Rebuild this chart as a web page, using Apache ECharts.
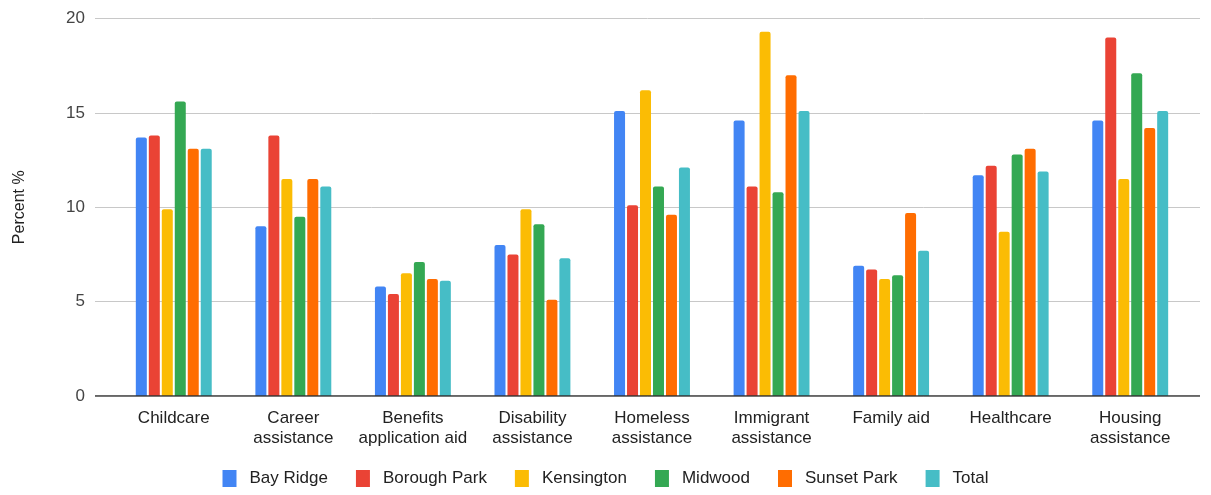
<!DOCTYPE html>
<html>
<head>
<meta charset="utf-8">
<script src="https://cdn.jsdelivr.net/npm/echarts@6/dist/echarts.min.js"></script>
<style>
  html, body { margin: 0; padding: 0; background: #fff; }
  #chart { width: 1211px; height: 495px; }
</style>
</head>
<body>
<div id="chart"></div>
<script>
// 服务类别（x 轴）
const categories = [
  'Childcare', 'Career\nassistance', 'Benefits\napplication aid', 'Disability\nassistance',
  'Homeless\nassistance', 'Immigrant\nassistance', 'Family aid', 'Healthcare', 'Housing\nassistance'
];

// 各社区占比（%）
const bayRidge     = [13.7, 9.0, 5.8, 8.0, 15.1, 14.6, 6.9, 11.7, 14.6];
const boroughPark  = [13.8, 13.8, 5.4, 7.5, 10.1, 11.1, 6.7, 12.2, 19.0];
const kensington   = [9.9, 11.5, 6.5, 9.9, 16.2, 19.3, 6.2, 8.7, 11.5];
const midwood      = [15.6, 9.5, 7.1, 9.1, 11.1, 10.8, 6.4, 12.8, 17.1];
const sunsetPark   = [13.1, 11.5, 6.2, 5.1, 9.6, 17.0, 9.7, 13.1, 14.2];
const total        = [13.1, 11.1, 6.1, 7.3, 12.1, 15.1, 7.7, 11.9, 15.1];

const seriesNames = ['Bay Ridge', 'Borough Park', 'Kensington', 'Midwood', 'Sunset Park', 'Total'];
const seriesData = [bayRidge, boroughPark, kensington, midwood, sunsetPark, total];
const colors = ['#4285F4', '#EA4335', '#FBBC04', '#34A853', '#FF6D01', '#46BDC6'];

const chart = echarts.init(document.getElementById('chart'));
const font = 'Liberation Sans, Arial, sans-serif';

const option = {
  color: colors,
  textStyle: { fontFamily: font },
  legend: {
    bottom: 3,
    left: 'center',
    itemWidth: 14,
    itemHeight: 17,
    itemGap: 28,
    icon: 'rect',
    textStyle: { fontSize: 17, color: '#222', fontFamily: font, padding: [0, 0, 0, 8] },
    data: seriesNames
  },
  grid: [
    // 背景网格（较宽，用于网格线和基线）
    { left: 95, right: 11, top: 18.5, bottom: 99 },
    // 柱状图区域
    { left: 114, right: 21, top: 18.5, bottom: 99 }
  ],
  xAxis: [
    { type: 'value', gridIndex: 0, show: true, min: 0, max: 1,
      axisLine: { show: false }, axisTick: { show: false }, axisLabel: { show: false }, splitLine: { show: false } },
    { type: 'category', gridIndex: 1, data: categories,
      axisLine: { show: false }, axisTick: { show: false },
      axisLabel: { fontSize: 17, color: '#222', lineHeight: 20, margin: 12, interval: 0, fontFamily: font } }
  ],
  yAxis: [
    { type: 'value', gridIndex: 0, min: 0, max: 20, interval: 5,
      name: 'Percent %', nameLocation: 'middle', nameGap: 67, nameRotate: 90,
      nameTextStyle: { fontSize: 16, color: '#222', fontFamily: font },
      axisLine: { show: false }, axisTick: { show: false },
      axisLabel: { fontSize: 17, color: '#444', margin: 10, fontFamily: font },
      splitLine: { lineStyle: { color: '#c8c8c8', width: 1 } } },
    { type: 'value', gridIndex: 1, min: 0, max: 20, interval: 5, show: false }
  ],
  series: seriesNames.map((name, i) => ({
    name,
    type: 'bar',
    xAxisIndex: 1,
    yAxisIndex: 1,
    barWidth: 11,
    barGap: '18%',
    itemStyle: { color: colors[i], borderRadius: [2, 2, 0, 0] },
    data: seriesData[i]
  })).concat([{
    // 基线
    type: 'line', xAxisIndex: 0, yAxisIndex: 0, silent: true, symbol: 'none',
    data: [[0, 0], [1, 0]], lineStyle: { color: '#333', width: 1.5 }
  }])
};

chart.setOption(option);
window.addEventListener('resize', () => chart.resize());
</script>
</body>
</html>
